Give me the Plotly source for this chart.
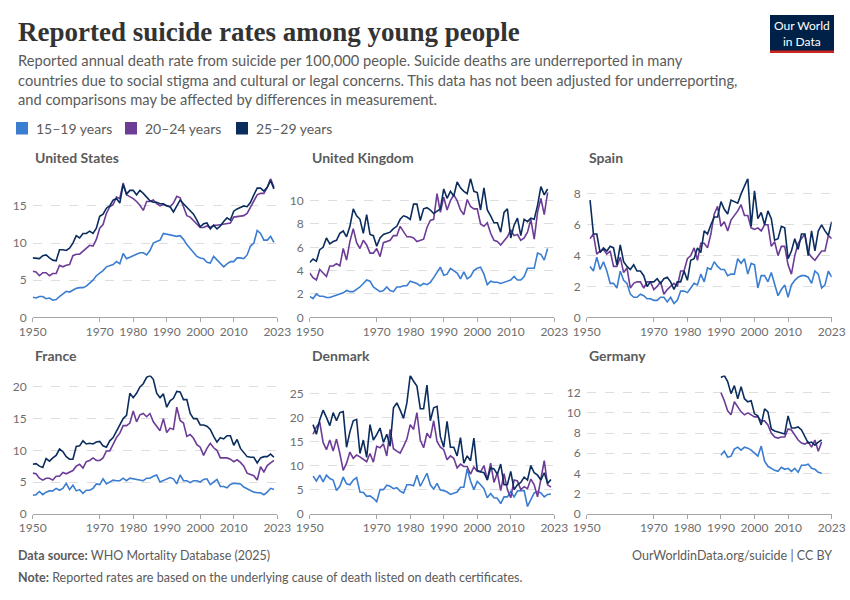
import plotly.graph_objects as go

# ---------------- data ----------------
age_groups = ["15–19 years", "20–24 years", "25–29 years"]
countries = ["United States", "United Kingdom", "Spain", "France", "Denmark", "Germany"]
tick_years = [1950, 1970, 1980, 1990, 2000, 2010, 2023]

us_start = 1950
us_15_19 = [2.7, 2.6, 2.8, 2.8, 2.5, 2.6, 2.3, 2.4, 2.8, 3.2,
            3.5, 3.4, 3.7, 3.9, 4.0, 4.0, 4.2, 4.6, 5.0, 5.6,
            5.9, 6.3, 6.8, 7.0, 7.1, 7.5, 7.2, 8.6, 7.9, 8.1,
            8.3, 8.6, 8.7, 8.7, 8.4, 9.0, 10.0, 10.2, 10.4, 11.3,
            11.2, 11.1, 10.9, 10.9, 11.0, 10.5, 9.8, 9.3, 8.8, 8.2,
            8.0, 7.9, 7.4, 7.3, 8.2, 7.7, 7.2, 6.8, 7.2, 7.5,
            7.5, 8.0, 8.0, 7.9, 8.4, 9.6, 10.0, 11.7, 11.3, 10.4, 10.4, 10.9, 10.1]
us_20_24 = [6.2, 6.1, 5.6, 6.0, 6.0, 5.6, 5.9, 5.9, 7.0, 6.8,
            7.0, 7.1, 8.3, 8.5, 8.5, 8.9, 9.3, 9.7, 9.6, 10.5,
            12.0, 12.5, 14.0, 14.9, 15.2, 16.2, 16.0, 18.1, 16.5, 16.3,
            16.0, 15.6, 15.1, 14.4, 15.6, 15.6, 15.8, 15.3, 15.0, 15.2,
            15.0, 14.9, 15.4, 16.3, 16.1, 14.8, 13.7, 13.5, 13.0, 12.5,
            12.1, 12.1, 12.3, 12.1, 12.4, 12.4, 12.5, 12.6, 12.6, 12.7,
            13.5, 13.6, 13.7, 13.7, 14.0, 14.8, 15.8, 16.5, 16.7, 16.7, 17.5, 18.7, 17.5]
us_25_29 = [8.0, 8.0, 7.9, 8.3, 8.4, 8.0, 7.7, 7.6, 9.1, 9.1,
            9.0, 9.3, 10.0, 11.0, 10.7, 11.3, 11.3, 11.6, 11.3, 12.0,
            13.6, 13.9, 14.7, 15.0, 15.8, 16.0, 15.4, 17.9, 16.6, 17.1,
            17.1, 16.5, 17.1, 16.7, 16.2, 15.7, 15.5, 15.5, 15.3, 15.3,
            15.0, 14.9, 14.2, 15.0, 15.8, 15.3, 14.8, 14.3, 13.9, 13.1,
            12.2, 12.6, 12.7, 11.9, 12.4, 11.9, 12.3, 12.9, 13.4, 13.1,
            14.3, 14.6, 14.8, 15.0, 14.9, 15.5, 16.5, 17.4, 17.4, 17.0, 17.5, 18.4, 17.3]

uk_start = 1950
uk_15_19 = [1.8, 1.6, 2.0, 1.8, 1.8, 1.7, 1.7, 1.8, 1.9, 2.0,
            2.1, 2.3, 2.2, 2.2, 2.4, 2.6, 2.9, 3.2, 3.1, 2.6,
            2.4, 2.2, 2.3, 2.6, 2.3, 2.2, 2.6, 2.6, 2.7, 2.7,
            3.1, 3.0, 2.9, 2.7, 2.9, 2.8, 3.0, 3.4, 3.8, 4.3,
            3.6, 3.7, 4.2, 4.0, 3.8, 3.3, 3.9, 3.3, 3.5, 4.0,
            4.2, 4.3, 3.7, 2.8, 3.1, 3.0, 3.0, 2.9, 3.0, 3.1,
            3.2, 3.5, 3.2, 3.2, 3.5, 4.2, 4.2, 4.2, 5.5, 5.4, 4.9, 5.9]
uk_20_24 = [3.8, 3.4, 3.2, 4.1, 3.8, 3.5, 4.4, 4.4, 4.6, 4.4,
            5.9, 4.9, 6.5, 7.6, 6.4, 5.9, 6.6, 6.2, 5.5, 5.5,
            5.9, 5.2, 6.4, 6.5, 6.6, 7.0, 7.0, 7.8, 7.3, 6.9,
            6.9, 6.8, 6.5, 6.6, 6.7, 7.7, 8.3, 8.4, 10.6, 9.0,
            10.3, 9.2, 10.0, 10.5, 10.0, 9.2, 8.8, 10.1, 9.5, 9.3,
            9.3, 8.0, 7.8, 8.1, 7.2, 6.6, 6.5, 6.2, 6.6, 6.9,
            7.5, 7.0, 7.1, 6.6, 6.8, 7.3, 8.4, 6.7, 9.0, 10.2, 8.8, 10.7]
uk_25_29 = [4.7, 5.0, 4.8, 5.8, 6.0, 6.8, 6.3, 6.5, 6.6, 7.2,
            7.4, 6.9, 7.8, 9.3, 8.7, 8.4, 7.2, 8.8, 7.1, 7.0,
            6.1, 6.8, 7.1, 7.2, 7.3, 7.6, 7.8, 8.4, 8.7, 8.6,
            8.4, 9.7, 9.7, 8.3, 9.3, 9.4, 9.2, 8.9, 9.1, 9.3,
            11.0, 10.2, 10.8, 10.4, 11.6, 11.1, 10.8, 10.6, 11.9, 10.8,
            10.7, 9.2, 11.1, 9.2, 8.7, 8.1, 8.1, 7.3, 9.0, 9.3,
            6.8, 7.9, 8.5, 7.0, 8.4, 8.2, 8.5, 8.4, 9.6, 11.2, 10.5, 11.0]

es_start = 1951
es_15_19 = [3.3, 3.0, 3.9, 3.1, 3.6, 3.0, 2.2, 2.2, 1.9, 3.0,
            2.4, 2.2, 1.5, 1.3, 1.3, 1.5, 1.4, 1.2, 1.2, 1.1,
            1.1, 1.3, 1.3, 1.0, 1.3, 0.9, 1.1, 1.7, 1.7, 1.6,
            1.9, 2.2, 2.1, 2.8, 2.3, 3.2, 3.1, 3.6, 3.3, 3.1,
            3.1, 2.7, 2.8, 2.8, 3.8, 3.5, 3.8, 2.8, 3.5, 3.4,
            1.9, 2.7, 2.7, 2.3, 2.9, 2.2, 1.4, 1.8, 2.1, 1.3,
            2.1, 2.4, 2.6, 2.7, 2.7, 2.6, 2.2, 3.0, 2.8, 1.9, 2.1, 3.0, 2.6]
es_20_24 = [5.1, 5.4, 4.1, 4.3, 4.4, 4.1, 4.3, 3.3, 3.3, 3.9,
            2.9, 3.2, 1.9, 2.2, 2.3, 2.3, 1.9, 2.3, 2.3, 1.8,
            2.0, 2.3, 1.5, 1.8, 2.0, 2.2, 2.0, 3.0, 3.0, 3.8,
            4.0, 4.5, 3.7, 4.8, 4.8, 4.5, 5.4, 6.7, 7.2, 5.9,
            6.2, 5.6, 6.3, 6.6, 6.9, 7.3, 6.6, 6.6, 5.8, 5.7,
            5.8, 5.6, 6.0, 6.0, 4.6, 4.9, 4.0, 4.6, 4.6, 3.4,
            2.8, 4.0, 4.8, 5.1, 5.4, 4.2, 3.9, 3.7, 4.0, 4.3, 4.3, 5.3, 5.1]
es_25_29 = [7.6, 5.4, 5.4, 4.2, 4.5, 4.3, 4.6, 4.5, 3.4, 4.7,
            3.6, 3.3, 3.1, 3.4, 3.0, 3.0, 2.7, 2.0, 2.3, 2.3,
            2.5, 2.2, 2.5, 2.6, 2.3, 1.8, 2.3, 2.3, 3.0, 2.4,
            3.7, 3.8, 4.5, 4.2, 5.6, 5.4, 6.0, 6.5, 6.5, 7.5,
            7.0, 6.7, 7.6, 7.5, 7.4, 8.0, 8.5, 9.0, 5.9, 8.2,
            6.4, 6.8, 6.0, 6.9, 6.4, 5.0, 5.1, 5.9, 5.8, 3.8,
            4.3, 5.1, 4.4, 5.4, 5.4, 4.0, 5.6, 4.3, 5.6, 6.0, 5.6, 5.3, 6.2]

fr_start = 1950
fr_15_19 = [2.9, 3.0, 3.5, 3.0, 3.4, 3.6, 3.6, 4.0, 3.7, 4.0,
            4.8, 3.8, 4.5, 3.6, 3.8, 3.2, 3.7, 3.7, 4.0, 4.7,
            4.6, 5.5, 4.7, 5.0, 5.3, 5.2, 5.2, 5.6, 5.2, 5.6,
            5.5, 5.3, 5.3, 5.2, 5.6, 5.6, 5.9, 6.1, 5.0, 5.2,
            5.5, 5.7, 5.5, 4.7, 6.1, 5.2, 5.2, 4.9, 5.2, 5.2,
            5.0, 5.4, 5.5, 4.6, 5.0, 5.4, 4.3, 4.3, 4.1, 4.6,
            4.8, 4.8, 4.7, 4.2, 3.9, 3.6, 3.4, 3.3, 3.3, 3.0, 3.4, 4.0, 3.8]
fr_20_24 = [6.4, 6.3, 5.6, 5.3, 5.6, 5.6, 5.3, 5.9, 5.9, 6.5,
            6.3, 6.6, 6.8, 7.5, 7.8, 7.2, 8.2, 8.4, 8.8, 8.4,
            8.4, 8.8, 9.9, 9.9, 11.0, 12.0, 12.7, 13.9, 13.9, 14.3,
            16.2, 14.5, 15.6, 15.8, 15.3, 15.8, 14.5, 13.8, 13.1, 15.0,
            12.8, 13.5, 13.3, 16.8, 14.7, 14.3, 12.2, 12.5, 11.9, 10.9,
            10.5, 9.2, 10.3, 11.1, 10.4, 10.0, 8.8, 8.8, 8.8, 8.6,
            8.2, 8.5, 8.1, 7.5, 6.4, 6.2, 6.0, 5.3, 7.4, 6.6, 7.6, 8.0, 8.4]
fr_25_29 = [7.8, 7.9, 7.5, 7.3, 8.7, 8.3, 8.8, 9.2, 10.2, 9.8,
            9.0, 8.6, 8.6, 10.6, 10.7, 11.5, 11.0, 11.1, 11.0, 11.3,
            11.4, 10.7, 10.5, 11.5, 12.0, 13.0, 14.2, 15.0, 15.5, 19.0,
            18.3, 19.0, 20.0, 20.5, 21.5, 21.8, 21.2, 19.0, 18.3, 18.9,
            16.8, 17.8, 18.2, 19.3, 19.2, 18.0, 18.0, 15.8, 15.0, 15.0,
            14.0, 14.0, 13.8, 13.3, 12.2, 11.3, 12.0, 11.8, 12.3, 12.3,
            10.8, 11.7, 10.3, 9.6, 9.0, 8.9, 8.9, 8.0, 8.8, 9.0, 9.0, 9.4, 8.9]

dk_start = 1951
dk_15_19 = [7.8, 6.8, 8.0, 6.6, 8.0, 7.3, 7.0, 4.8, 5.7, 7.6,
            6.2, 6.0, 7.0, 7.5, 4.5, 4.4, 3.6, 3.7, 3.2, 2.5,
            5.0, 5.0, 5.9, 5.7, 5.2, 5.4, 4.7, 4.3, 6.0, 6.0,
            5.8, 8.0, 5.7, 7.0, 8.4, 6.0, 5.1, 6.3, 4.9, 4.8,
            4.5, 4.0, 4.3, 4.5, 5.5, 5.5, 9.3, 6.8, 5.0, 6.7,
            6.0, 5.2, 3.3, 4.2, 3.3, 3.2, 2.1, 3.5, 3.5, 4.6,
            3.5, 4.7, 4.8, 4.8, 1.5, 3.0, 4.3, 4.6, 4.3, 3.5, 4.0, 4.1]
dk_20_24 = [16.5, 18.0, 19.0, 14.8, 13.3, 15.3, 13.0, 15.5, 12.5, 9.0,
            10.5, 12.8, 11.5, 12.2, 11.8, 11.2, 10.8, 12.5, 10.7, 14.0,
            13.7, 14.5, 12.0, 17.5, 13.5, 13.0, 12.6, 14.0, 15.5, 18.5,
            17.5, 21.0, 15.3, 13.7, 16.7, 15.7, 19.3, 15.0, 13.8, 13.3,
            11.2, 12.0, 11.5, 9.5, 10.3, 9.8, 9.8, 8.2, 9.7, 8.8,
            8.7, 10.0, 7.0, 10.5, 6.5, 8.5, 4.8, 8.3, 5.0, 3.3,
            7.0, 6.8, 5.0, 5.6, 5.2, 7.2, 6.0, 3.5, 7.0, 11.0, 6.0, 5.5]
dk_25_29 = [18.5, 16.5, 19.5, 21.5, 20.0, 18.3, 21.0, 19.3, 21.0, 21.2,
            13.8, 17.0, 19.3, 19.6, 12.5, 15.3, 11.7, 18.5, 15.3, 16.4,
            17.8, 14.8, 16.5, 14.0, 22.0, 23.0, 21.5, 19.8, 23.0, 28.7,
            27.5, 26.5, 21.8, 21.8, 26.7, 19.3, 22.0, 22.3, 16.0, 13.8,
            19.2, 13.8, 13.8, 12.0, 15.8, 10.5, 12.0, 11.0, 15.7, 9.0,
            8.7, 8.5, 7.0, 9.5, 9.3, 8.2, 10.3, 6.0, 6.0, 8.8,
            5.0, 6.0, 6.5, 7.6, 7.0, 10.0, 8.5, 8.0, 7.0, 8.5, 6.3, 7.1]

de_start = 1990
de_15_19 = [5.8, 6.2, 5.6, 5.7, 6.4, 6.6, 6.3, 6.6, 6.5, 6.3,
            6.0, 5.7, 6.7, 5.2, 4.7, 4.5, 4.3, 4.2, 4.6, 4.4,
            4.5, 4.2, 4.5, 4.1, 4.8, 4.8, 4.9, 4.5, 4.4, 4.1, 4.0]
de_20_24 = [12.0, 11.2, 10.2, 9.8, 11.1, 10.6, 10.1, 9.8, 10.0, 9.8,
            9.6, 9.6, 9.2, 9.2, 8.8, 8.0, 7.6, 7.5, 7.6, 7.6,
            8.4, 8.3, 7.8, 7.3, 7.0, 6.9, 7.1, 6.6, 7.3, 6.2, 7.1]
de_25_29 = [13.5, 13.7, 13.1, 11.9, 12.7, 11.4, 12.6, 11.4, 11.1, 11.2,
            9.9, 9.7, 8.8, 10.4, 10.1, 8.4, 8.2, 8.1, 8.0, 7.9,
            9.7, 8.5, 8.5, 8.6, 8.3, 7.6, 7.0, 7.1, 6.8, 7.1, 7.3]

panel_data = [
    (us_start, [us_15_19, us_20_24, us_25_29], 5),
    (uk_start, [uk_15_19, uk_20_24, uk_25_29], 2),
    (es_start, [es_15_19, es_20_24, es_25_29], 2),
    (fr_start, [fr_15_19, fr_20_24, fr_25_29], 5),
    (dk_start, [dk_15_19, dk_20_24, dk_25_29], 5),
    (de_start, [de_15_19, de_20_24, de_25_29], 2),
]

# ---------------- style ----------------
colors = ["#3b7dd1", "#6d3c96", "#0b2d5e"]
W, H = 850, 600
col_px = [(32.7, 277.3), (309.7, 554.3), (586.7, 831.7)]
row_px = [(178.5, 317.3), (375.5, 513.7)]
title_px = [158, 355]
grey = "#5b5b5b"
tick_grey = "#6e6e6e"
FONT = "Lato"

def px(x):
    return x / W

def py(y):
    return 1 - y / H

fig = go.Figure()
layout = dict(
    width=W, height=H, margin=dict(l=0, r=0, t=0, b=0, pad=0, autoexpand=False),
    paper_bgcolor="white", plot_bgcolor="white", template="none",
    showlegend=False, font=dict(family=FONT, color=grey),
)
annotations = []
shapes = []

for i, (start, series, dtick) in enumerate(panel_data):
    r, c = divmod(i, 3)
    n = i + 1
    xa = "x" if n == 1 else f"x{n}"
    ya = "y" if n == 1 else f"y{n}"
    ymax = max(max(s) for s in series)
    for k, s in enumerate(series):
        years = list(range(start, start + len(s)))
        fig.add_trace(go.Scatter(
            x=years, y=s, mode="lines", xaxis=xa, yaxis=ya,
            line=dict(color=colors[k], width=1.6), name=age_groups[k],
            hoverinfo="skip"))
    x0, x1 = col_px[c]
    y0, y1 = row_px[r]
    layout["xaxis" if n == 1 else f"xaxis{n}"] = dict(
        domain=[px(x0), px(x1)], anchor=ya, range=[1950, 2023], automargin=False,
        tickvals=tick_years, ticktext=[str(t) for t in tick_years],
        showgrid=False, zeroline=False, showline=True, linecolor="#a6a6a6",
        linewidth=1, ticks="outside", ticklen=4, tickcolor="#a6a6a6",
        ticklabelstandoff=-1,
        tickfont=dict(family=FONT, size=12, color=tick_grey), fixedrange=True)
    layout["yaxis" if n == 1 else f"yaxis{n}"] = dict(
        domain=[py(y1), py(y0)], anchor=xa, range=[0, ymax], automargin=False,
        dtick=dtick, tick0=0, showgrid=True, gridcolor="#dedede",
        griddash="dash", gridwidth=1, zeroline=False, showline=False,
        ticks="", ticklabelstandoff=5,
        tickfont=dict(family=FONT, size=12, color=tick_grey), fixedrange=True)
    annotations.append(dict(
        text=f"<b>{countries[i]}</b>", x=px(x0), y=py(title_px[r]),
        xref="paper", yref="paper", xanchor="left", yanchor="middle",
        showarrow=False, font=dict(family=FONT, size=14, color=grey)))

# header
annotations.append(dict(
    text="<b>Reported suicide rates among young people</b>", x=px(16), y=py(32),
    xref="paper", yref="paper", xanchor="left", yanchor="middle", showarrow=False,
    font=dict(family="Liberation Serif", size=27, color="#333333")))
subtitle = [
    "Reported annual death rate from suicide per 100,000 people. Suicide deaths are underreported in many",
    "countries due to social stigma and cultural or legal concerns. This data has not been adjusted for underreporting,",
    "and comparisons may be affected by differences in measurement.",
]
for j, line in enumerate(subtitle):
    annotations.append(dict(
        text=line, x=px(16), y=py(60 + 19.5 * j), xref="paper", yref="paper",
        xanchor="left", yanchor="middle", showarrow=False,
        font=dict(family=FONT, size=14.7, color=grey)))

# legend
leg_x = [16, 125, 236]
for k, lab in enumerate(age_groups):
    shapes.append(dict(type="rect", xref="paper", yref="paper",
                       x0=px(leg_x[k]), x1=px(leg_x[k] + 12), y0=py(134.5), y1=py(122),
                       fillcolor=colors[k], line=dict(width=0)))
    annotations.append(dict(
        text=lab, x=px(leg_x[k] + 18), y=py(128.5), xref="paper", yref="paper",
        xanchor="left", yanchor="middle", showarrow=False,
        font=dict(family=FONT, size=14, color=grey)))

# logo
shapes.append(dict(type="rect", xref="paper", yref="paper",
                   x0=px(770), x1=px(834), y0=py(53), y1=py(15),
                   fillcolor="#002147", line=dict(width=0)))
shapes.append(dict(type="rect", xref="paper", yref="paper",
                   x0=px(770), x1=px(834), y0=py(53), y1=py(50.5),
                   fillcolor="#ce261e", line=dict(width=0)))
annotations.append(dict(
    text="Our World<br>in Data", x=px(802), y=py(33), xref="paper", yref="paper",
    xanchor="center", yanchor="middle", showarrow=False,
    font=dict(family=FONT, size=12, color="white")))

# footer
annotations.append(dict(
    text="<b>Data source:</b> WHO Mortality Database (2025)", x=px(16), y=py(555),
    xref="paper", yref="paper", xanchor="left", yanchor="middle", showarrow=False,
    font=dict(family=FONT, size=12.5, color=grey)))
annotations.append(dict(
    text="OurWorldinData.org/suicide | CC BY", x=px(834), y=py(555),
    xref="paper", yref="paper", xanchor="right", yanchor="middle", showarrow=False,
    font=dict(family=FONT, size=12.5, color=grey)))
annotations.append(dict(
    text="<b>Note:</b> Reported rates are based on the underlying cause of death listed on death certificates.",
    x=px(16), y=py(577), xref="paper", yref="paper", xanchor="left", yanchor="middle",
    showarrow=False, font=dict(family=FONT, size=12.5, color=grey)))

layout["annotations"] = annotations
layout["shapes"] = shapes
fig.update_layout(**layout)
fig.write_html("out.html")
